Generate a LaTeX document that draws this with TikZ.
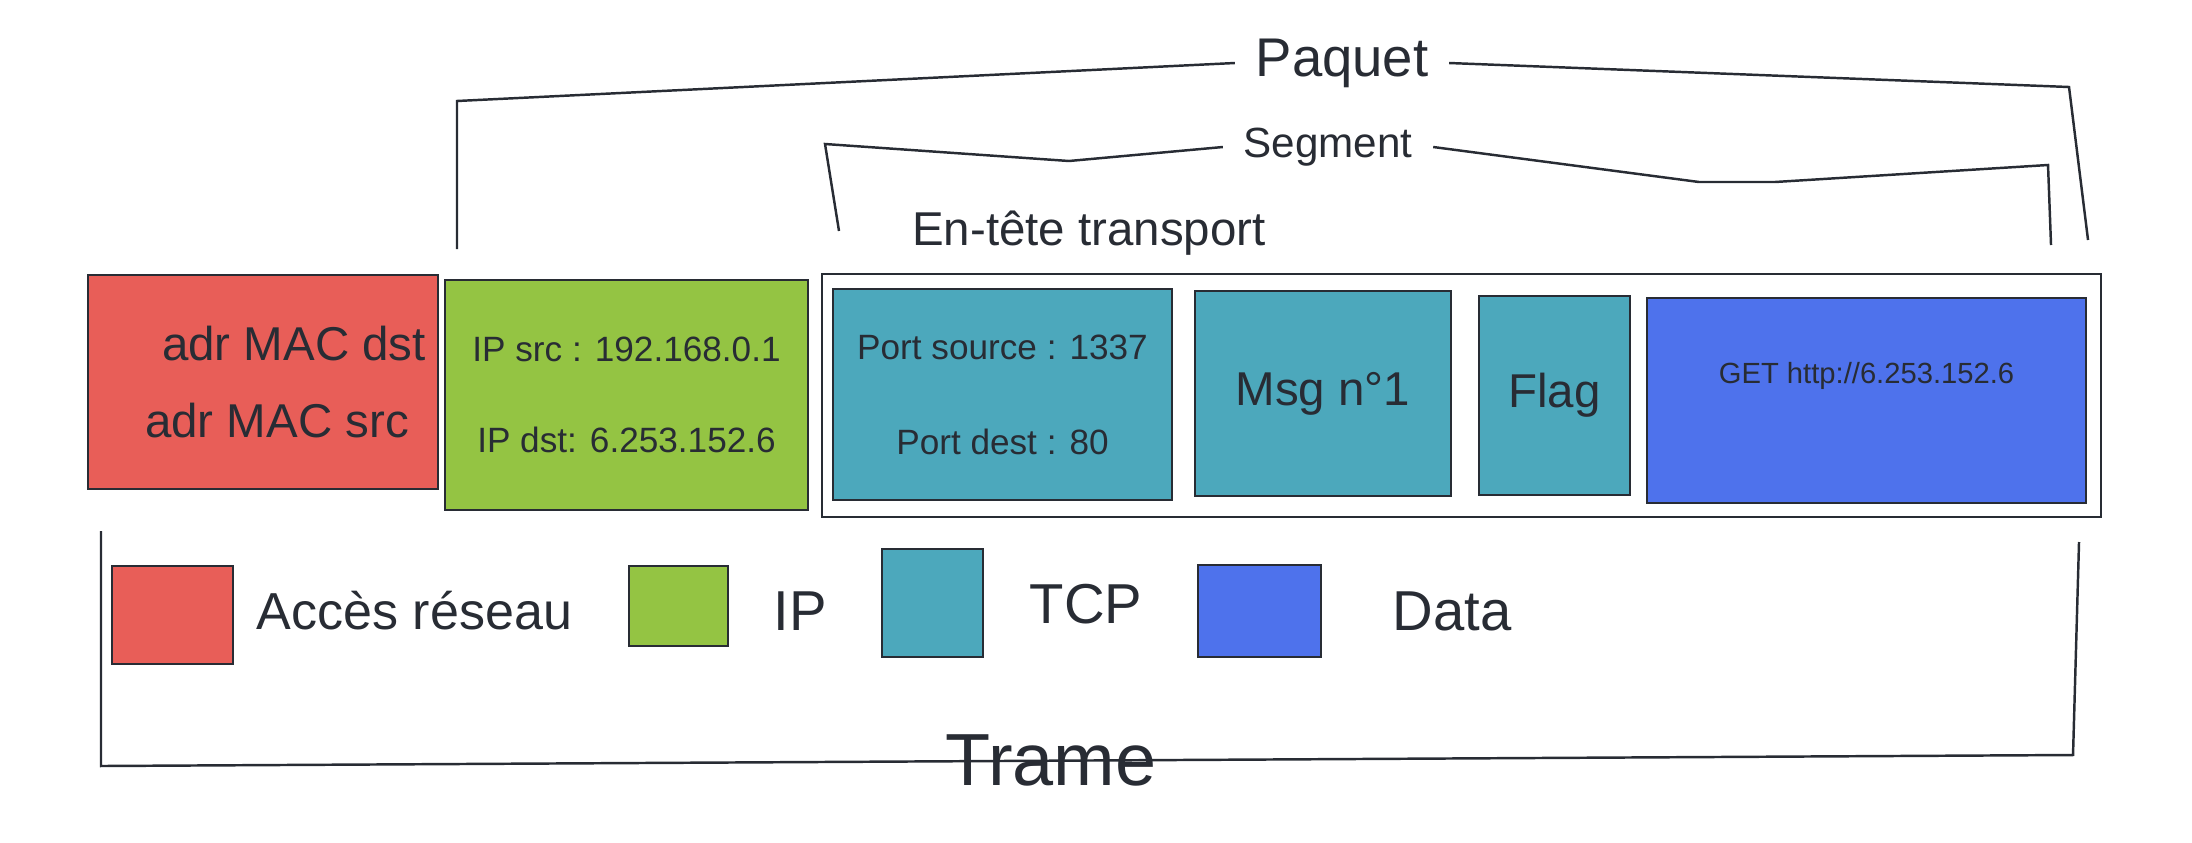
\documentclass[tikz,border=0pt]{standalone}
\usepackage{fontspec}
\setmainfont{Liberation Sans}
\usetikzlibrary{positioning}

\definecolor{macred}{RGB}{232,94,88}
\definecolor{ipgreen}{RGB}{148,196,67}
\definecolor{tcpteal}{RGB}{76,168,188}
\definecolor{datablue}{RGB}{78,114,236}
\definecolor{ink}{RGB}{40,44,52}

\tikzset{
	sketch/.style={draw=ink, line width=0.7pt},
	txt/.style={text=ink, inner sep=0pt},
	big/.style={txt, font=\fontsize{15.5}{18}\selectfont},
	mid/.style={txt, font=\fontsize{13.5}{16}\selectfont},
	small/.style={txt, font=\fontsize{10}{12}\selectfont},
	legend/.style={txt, font=\fontsize{16}{19}\selectfont},
}

\begin{document}
\begin{tikzpicture}[x=0.01cm, y=-0.01cm]
		\useasboundingbox (0,0) rectangle (2192,842);
		% trame
		\draw[sketch, fill=macred] (88,275) rectangle (438,489) node[pos=.5, mid, align=center, xshift=0.14cm] (mac) {\hspace*{0.34cm}adr MAC dst\\[6pt] adr MAC src};
		\draw[sketch, fill=ipgreen] (445,280) rectangle (808,510) node[pos=.5, small, align=center] (ip) {IP src : 192.168.0.1\\[14pt] IP dst: 6.253.152.6};
		\draw[sketch] (822,274) rectangle (2101,517) node[pos=.5] (seg) {};
		\draw[sketch, fill=tcpteal] (833,289) rectangle (1172,500) node[pos=.5, small, align=center] (ports) {Port source : 1337\\[15pt] Port dest : 80};
		\draw[sketch, fill=tcpteal] (1195,291) rectangle (1451,496) node[pos=.5, mid] (msg) {Msg n°1};
		\draw[sketch, fill=tcpteal] (1479,296) rectangle (1630,495) node[pos=.5, mid] (flag) {Flag};
		\draw[sketch, fill=datablue] (1647,298) rectangle (2086,503) node[pos=.5, txt, font=\fontsize{8.3}{10}\selectfont, yshift=0.25cm] (data) {GET http://6.253.152.6};
		\node[mid] (entete) at (1089,233) {En-tête transport};

		% legende
		\draw[sketch, fill=macred] (112,566) rectangle (233,664) node[pos=.5] (lmac) {};
		\draw[sketch, fill=ipgreen] (629,566) rectangle (728,646) node[pos=.5] (lip) {};
		\draw[sketch, fill=tcpteal] (882,549) rectangle (983,657) node[pos=.5] (ltcp) {};
		\draw[sketch, fill=datablue] (1198,565) rectangle (1321,657) node[pos=.5] (ldata) {};
		\node[legend, font=\fontsize{14.8}{18}\selectfont, anchor=west] (tmac) at (256,611) {Accès réseau};
		\node[legend] (tip) at (800,611) {IP};
		\node[legend] (ttcp) at (1086,604) {TCP};
		\node[legend] (tdata) at (1452,611) {Data};

		% accolades
		\node[big] (paquet) at (1342,63) {Paquet};
		\node[txt, font=\fontsize{12}{14}\selectfont] (segment) at (1328,147) {Segment};
		\node[txt, font=\fontsize{21}{25}\selectfont] (trame) at (1051,760) {Trame};

		\coordinate (p1) at (457,249);
		\coordinate (p2) at (457,101);
		\coordinate (p3) at (2069,87);
		\coordinate (p4) at (2088,240);
		\draw[sketch] (p1) -- (p2) -- ([xshift=-0.2cm]paquet.west);
		\draw[sketch] ([xshift=0.2cm]paquet.east) -- (p3) -- (p4);

		\coordinate (s1) at (839,231);
		\coordinate (s2) at (825,144);
		\coordinate (s3) at (1069,161);
		\coordinate (s4) at (1699,182);
		\coordinate (s5) at (1775,182);
		\coordinate (s6) at (2048,165);
		\coordinate (s7) at (2051,245);
		\draw[sketch] (s1) -- (s2) -- (s3) -- ([xshift=-0.2cm]segment.west);
		\draw[sketch] ([xshift=0.2cm]segment.east) -- (s4) -- (s5) -- (s6) -- (s7);

		\coordinate (t1) at (101,531);
		\coordinate (t2) at (101,766);
		\coordinate (t3) at (2073,755);
		\coordinate (t4) at (2079,542);
		\draw[sketch] (t1) -- (t2) -- (t3) -- (t4);
\end{tikzpicture}
\end{document}
